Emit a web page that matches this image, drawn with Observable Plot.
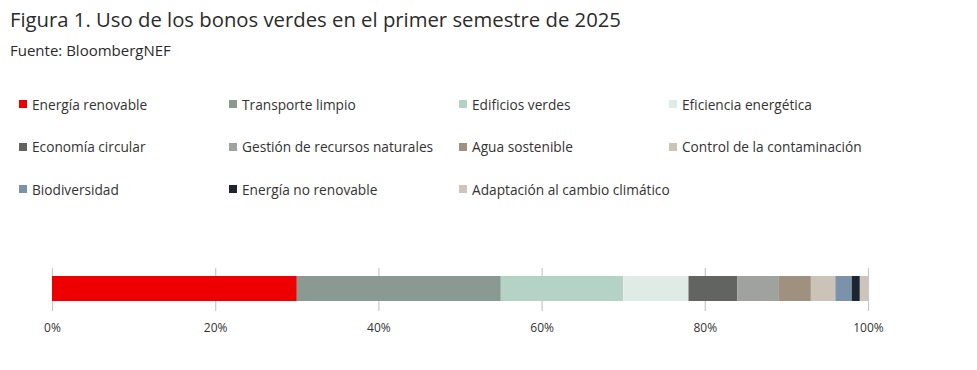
<!DOCTYPE html>
<html><head><meta charset="utf-8">
<script src="https://cdn.jsdelivr.net/npm/d3@7"></script>
<script src="https://cdn.jsdelivr.net/npm/@observablehq/plot@0.6"></script>
<style>
body{margin:0;background:#fff;width:977px;height:370px;position:relative;overflow:hidden;font-family:"Open Sans",sans-serif;color:#333}
#title{position:absolute;left:10px;top:5px;font-family:"Open Sans",sans-serif;font-size:20.3px;line-height:28px;color:#2b2b2b}
#sub{position:absolute;left:10px;top:40px;font-family:"Open Sans",sans-serif;font-size:15px;line-height:20px;color:#2b2b2b}
#legend{position:absolute;left:19px;top:83px;display:grid;grid-template-columns:210px 230px 210px 260px;grid-auto-rows:42.5px}
.item{display:flex;align-items:center;font-size:13.7px;color:#333;white-space:nowrap}
.sw{width:8px;height:8px;margin-right:5px;flex:none}
#chart{position:absolute;left:0;top:250px}
</style></head><body>
<div id="title">Figura 1. Uso de los bonos verdes en el primer semestre de 2025</div>
<div id="sub">Fuente: BloombergNEF</div>
<div id="legend"></div>
<div id="chart"></div>
<script>
const categories = ["Energía renovable","Transporte limpio","Edificios verdes","Eficiencia energética","Economía circular","Gestión de recursos naturales","Agua sostenible","Control de la contaminación","Biodiversidad","Energía no renovable","Adaptación al cambio climático"];
const shares = [30,25,15,8,6,5,4,3,2,1,1];
const colors = ["#ec0000","#8a9a93","#b5d3c5","#e1ebe6","#62655f","#a0a29d","#a09080","#cbc3b8","#7a92aa","#1d2630","#cdc5bb"];
const ticks = [0,20,40,60,80,100];

const data = categories.map((c,i)=>({category:c, value:shares[i], row:""}));

const leg = document.getElementById("legend");
categories.forEach((c,i)=>{
  const d=document.createElement("div");d.className="item";
  d.innerHTML=`<span class="sw" style="background:${colors[i]}"></span>${c}`;
  leg.appendChild(d);
});

const chart = Plot.plot({
  width:977, height:110,
  marginLeft:52, marginRight:109, marginTop:26, marginBottom:59,
  style:{fontFamily:"Open Sans, sans-serif", fontSize:"12px", color:"#333", background:"#fff"},
  x:{domain:[0,100], axis:null},
  y:{domain:[""], axis:null, padding:0},
  color:{domain:categories, range:colors},
  marks:[
    Plot.tickX(ticks.map(t=>({t, row:""})), {x:"t", y:"row", stroke:"#c8c8c8", strokeWidth:1.2, insetTop:-8, insetBottom:-10}),
    Plot.barX(data, Plot.stackX({x:"value", y:"row", fill:"category", order:null})),
    Plot.axisX(ticks, {tickSize:0, tickPadding:22, tickFormat:d=>d+"%", fontSize:12, label:null})
  ]
});
document.getElementById("chart").appendChild(chart);
</script>
</body></html>
